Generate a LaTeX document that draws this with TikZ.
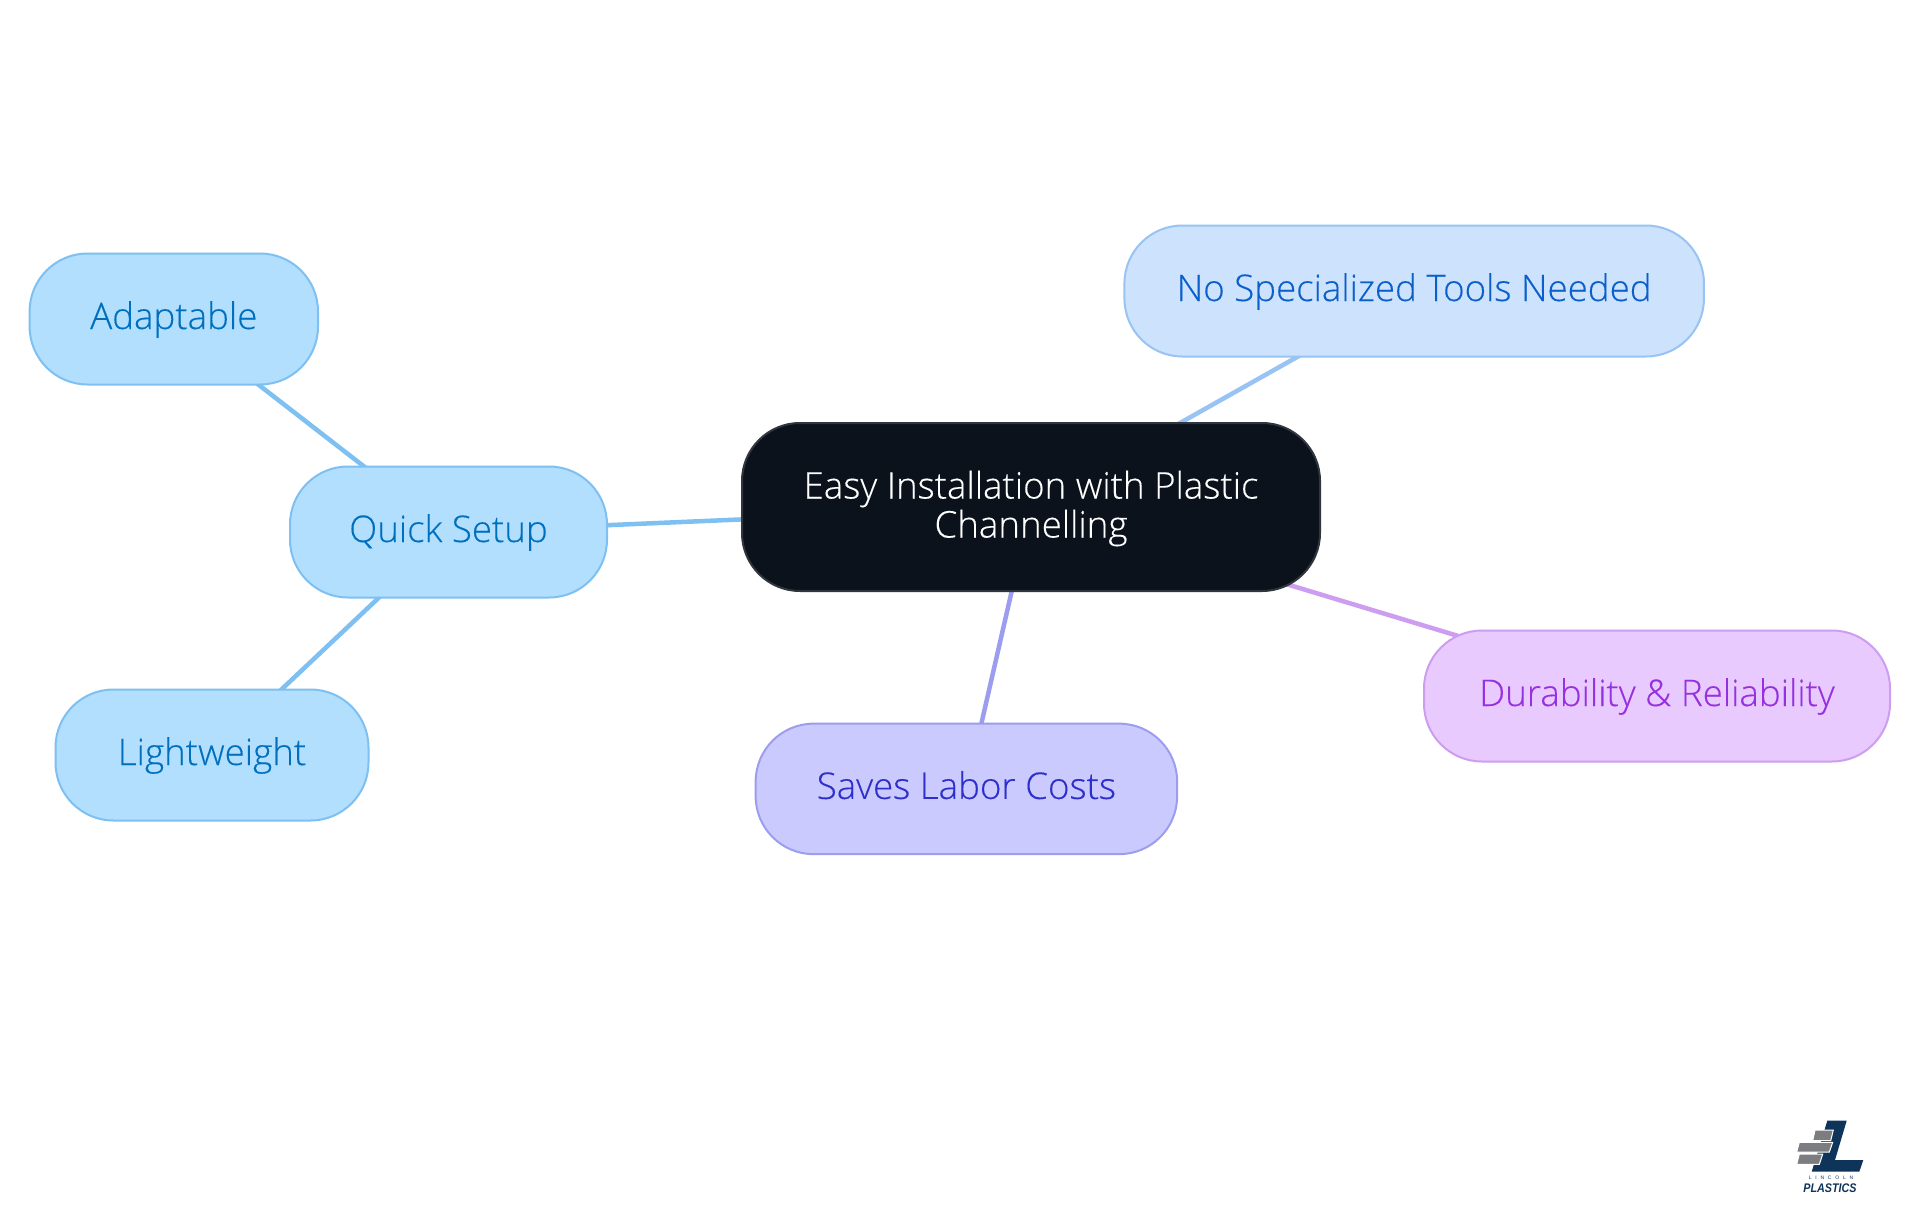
\documentclass[tikz,border=0pt]{standalone}
\usepackage{fontspec}
\usetikzlibrary{backgrounds}
\setmainfont[FakeBold=0.25]{Open Sans Light}
\newfontfamily\logofont{Liberation Sans}
\definecolor{rootfill}{HTML}{0B121B}
\definecolor{rootline}{HTML}{31363D}
\definecolor{skyfill}{HTML}{B3DFFF}
\definecolor{skyline}{HTML}{7DC0F1}
\definecolor{skytext}{HTML}{006FBE}
\definecolor{bluefill}{HTML}{CDE3FD}
\definecolor{blueline}{HTML}{98C3F2}
\definecolor{bluetext}{HTML}{0B5FCB}
\definecolor{violetfill}{HTML}{CACAFF}
\definecolor{violetline}{HTML}{9D9DF0}
\definecolor{violettext}{HTML}{2E2ECB}
\definecolor{purplefill}{HTML}{E8CAFF}
\definecolor{purpleline}{HTML}{CD9DF0}
\definecolor{purpletext}{HTML}{9730DF}
\definecolor{logonavy}{HTML}{0F3459}
\definecolor{logogray}{HTML}{7B7D80}
\tikzset{
  x=1pt,y=-1pt,
  pill/.style={rectangle,rounded corners=58pt,line width=2pt,inner sep=0pt,outer sep=0pt,
    font=\fontsize{36.7}{39}\selectfont,align=center,minimum height=131pt,text height=26pt,text depth=6pt},
  skybox/.style={pill,draw=skyline,fill=skyfill,text=skytext},
  bluebox/.style={pill,draw=blueline,fill=bluefill,text=bluetext},
  violetbox/.style={pill,draw=violetline,fill=violetfill,text=violettext},
  purplebox/.style={pill,draw=purpleline,fill=purplefill,text=purpletext},
  rootbox/.style={pill,draw=rootline,fill=rootfill,text=white,minimum height=168pt,text height=84pt,text depth=23pt},
  conn/.style={line width=4.5pt},
}
\begin{document}
\begin{tikzpicture}
\useasboundingbox (0,0) rectangle (1920,1215);
\node[rootbox,minimum width=578pt] (root) at (1031,507) {Easy Installation with Plastic\\Channelling};
\node[skybox,minimum width=288.4pt] (adapt) at (173.8,319) {Adaptable};
\node[skybox,minimum width=317pt] (quick) at (448.5,532) {Quick Setup};
\node[skybox,minimum width=313pt] (light) at (212,755) {Lightweight};
\node[bluebox,minimum width=579.5pt] (tools) at (1414.2,291) {No Specialized Tools Needed};
\node[purplebox,minimum width=466pt] (dur) at (1657,696) {Durability \& Reliability};
\node[violetbox,minimum width=421.5pt,minimum height=130.5pt] (saves) at (966.4,788.9) {Saves Labor Costs};
\begin{scope}[on background layer]
\fill[white] (0,0) rectangle (1920,1215);
\draw[conn,skyline] (root.center) -- (quick.center);
\draw[conn,skyline] (quick.center) -- (adapt.center);
\draw[conn,skyline] (quick.center) -- (light.center);
\draw[conn,blueline] (root.center) -- (tools.center);
\draw[conn,violetline] (root.center) -- (saves.center);
\draw[conn,purpleline] (root.center) -- (dur.center);
\end{scope}
% logo
\fill[logonavy] (1827.3,1120.7) -- (1846.7,1120.7) -- (1835,1160) -- (1863.3,1160) -- (1859.3,1171.7) -- (1811.7,1171.7) -- cycle;
\fill[logogray,draw=white,line width=1pt] (1815,1130) -- (1833.3,1130) -- (1830.7,1140.7) -- (1812.7,1140.7) -- cycle;
\fill[logogray,draw=white,line width=1pt] (1799.3,1142.3) -- (1832.7,1142.3) -- (1829.3,1152) -- (1796.7,1152) -- cycle;
\fill[logogray,draw=white,line width=1pt] (1799.3,1154) -- (1822.7,1154) -- (1819.3,1164.3) -- (1796.7,1164.3) -- cycle;
\node[inner sep=0pt,text=logonavy,font=\logofont\fontsize{5}{5}\selectfont] (lincoln) at (1831,1177.5) {L\hspace{3.8pt}I\hspace{3.8pt}N\hspace{3.8pt}C\hspace{3.8pt}O\hspace{3.8pt}L\hspace{3.8pt}N};
\node[inner sep=0pt,text=logonavy,xscale=.86,font=\logofont\bfseries\itshape\fontsize{12.5}{12.5}\selectfont] (plastics) at (1830,1188) {PLASTICS};
\end{tikzpicture}
\end{document}
